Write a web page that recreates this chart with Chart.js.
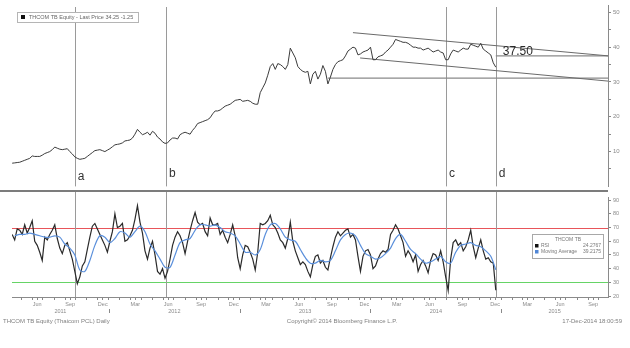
<!DOCTYPE html>
<html>
<head>
<meta charset="utf-8">
<title>THCOM TB Equity</title>
<script src="https://cdn.jsdelivr.net/npm/chart.js@4/dist/chart.umd.min.js"></script>
<style>
  html, body { margin: 0; padding: 0; background: #fff; }
  #wrap { position: relative; width: 630px; height: 348px; overflow: hidden; }
  #priceChart { position: absolute; left: 0; top: 0; }
  #rsiChart { position: absolute; left: 0; top: 192px; }
</style>
</head>
<body>
<div id="wrap">
  <canvas id="priceChart" width="630" height="192"></canvas>
  <canvas id="rsiChart" width="630" height="156"></canvas>
</div>
<script>
// ---------- data ----------
// Day numbers count days since 1 Jan 2011.
const TICKER = 'THCOM TB Equity';
const COMPANY = 'Thaicom PCL';
const SHORT_NAME = 'THCOM TB';
const PRINT_STAMP = '17-Dec-2014 18:00:59';
const COPYRIGHT = 'Copyright\u00a9 2014 Bloomberg Finance L.P.';

// weekly closing prices (THB)
const PRICE_START = 95;
const PRICE_STEP = 7;
const priceValues = [
  6.67, 6.75, 6.86, 6.94, 7.22, 7.50, 7.78, 8.06, 8.75, 8.60,
  8.61, 8.61, 8.97, 9.44, 9.72, 10.00, 10.56, 11.30, 10.97, 10.69,
  10.56, 10.69, 10.83, 10.00, 9.31, 8.47, 8.06, 7.78, 7.92, 8.06,
  8.61, 9.17, 9.72, 10.28, 10.42, 10.56, 10.28, 10.00, 10.42, 10.83,
  11.39, 11.94, 12.08, 12.22, 12.50, 13.06, 13.19, 13.33, 13.89, 15.00,
  16.39, 15.56, 14.86, 15.14, 15.56, 14.72, 15.83, 15.28, 14.17, 13.61,
  12.78, 12.36, 12.50, 13.33, 13.89, 13.89, 13.61, 14.86, 15.28, 15.56,
  15.28, 15.00, 16.11, 16.94, 18.06, 18.33, 18.61, 18.89, 19.17, 19.72,
  20.83, 21.67, 21.67, 21.94, 22.50, 23.06, 23.33, 23.61, 24.17, 24.72,
  24.86, 25.00, 24.44, 24.58, 24.72, 24.44, 23.89, 23.61, 23.61, 26.94,
  28.33, 29.72, 31.94, 34.44, 35.28, 33.61, 35.28, 35.00, 34.44, 33.61,
  35.00, 39.72, 38.33, 36.94, 34.44, 33.61, 33.06, 32.78, 33.06, 29.44,
  32.22, 33.06, 30.83, 32.22, 34.72, 33.06, 29.44, 31.39, 33.61, 35.00,
  35.83, 36.11, 36.39, 37.50, 38.89, 39.44, 40.00, 39.72, 37.78, 38.06,
  38.61, 38.89, 39.17, 40.00, 36.39, 36.39, 37.22, 37.50, 37.78, 38.61,
  39.17, 40.00, 40.83, 42.22, 41.94, 41.67, 41.39, 41.39, 41.11, 40.56,
  40.00, 40.00, 39.72, 39.72, 39.17, 39.44, 39.72, 39.17, 38.61, 38.89,
  39.17, 38.61, 38.33, 36.39, 36.39, 38.06, 39.17, 38.89, 38.61, 39.17,
  39.72, 39.44, 39.44, 40.83, 40.56, 40.28, 40.00, 41.11, 39.44, 38.89,
  38.33, 37.78, 35.50, 34.25
];

// relative strength index, same weekly dates as the prices
const RSI_START = 95;
const RSI_STEP = 7;
const rsiValues = [
  65, 61, 69, 68, 65, 72, 66, 70, 75, 60,
  57, 52, 46, 63, 61, 65, 68, 72, 62, 55,
  51, 57, 59, 53, 47, 38, 29, 34, 42, 45,
  54, 63, 71, 73, 69, 65, 61, 57, 52, 60,
  67, 80, 70, 71, 73, 60, 61, 64, 68, 76,
  86, 74, 66, 53, 47, 55, 60, 50, 38, 36,
  40, 33, 38, 47, 57, 63, 67, 64, 59, 51,
  60, 68, 75, 81, 74, 72, 73, 67, 64, 77,
  72, 72, 73, 65, 68, 63, 59, 65, 72, 64,
  48, 40, 50, 57, 56, 52, 47, 39, 52, 73,
  72, 73, 75, 79, 72, 70, 66, 61, 59, 55,
  62, 74, 60, 53, 48, 43, 45, 43, 38, 34,
  43, 49, 50, 44, 46, 41, 39, 48, 56, 63,
  67, 64, 66, 68, 69, 63, 65, 61, 49, 38,
  49, 53, 54, 50, 40, 42, 47, 51, 53, 52,
  54, 65, 68, 72, 69, 64, 59, 49, 53, 50,
  45, 50, 38, 43, 46, 42, 37, 46, 51, 50,
  46, 53, 45, 34, 24, 47, 59, 61, 57, 59,
  53, 56, 61, 68, 56, 48, 55, 61, 53, 47,
  48, 45, 44, 24.2767
];

// moving average of the RSI, every two weeks
const MA_START = 102;
const MA_STEP = 14;
const rsiMaValues = [
  64, 65, 65, 66, 65, 64, 63, 63, 64, 63,
  58, 55, 50, 39, 38, 46, 57, 64, 63, 59,
  62, 67, 66, 63, 67, 71, 67, 58, 53, 47,
  41, 41, 50, 59, 61, 62, 68, 72, 72, 71,
  72, 70, 67, 66, 64, 58, 52, 52, 50, 54,
  65, 72, 73, 69, 63, 61, 60, 54, 48, 44,
  44, 46, 45, 46, 53, 61, 65, 66, 64, 57,
  51, 49, 47, 48, 51, 55, 62, 65, 60, 54,
  51, 47, 44, 45, 47, 49, 45, 44, 52, 57,
  58, 59, 57, 56, 53, 49, 39.2175
];

// marked dates
const eventDays = [270, 525, 1307, 1446];
const eventLabels = ['a', 'b', 'c', 'd'];

// drawn trend lines: [start day, end day] and [start value, end value]
const channelTopDays = [1047, 1759.5];
const channelTopValues = [44.17, 37.5];
const channelBottomDays = [1067, 1759.5];
const channelBottomValues = [36.9, 30.25];
const supportDays = [977, 1759.5];
const supportValues = [31.1, 31.1];
const TARGET = 37.5;
const targetDays = [1446, 1759.5];

// RSI bands
const RSI_HIGH = 70;
const RSI_LOW = 30;

// axes
const X_MIN = 94.5;
const X_MAX = 1759.5;
const YEARS = [2011, 2012, 2013, 2014, 2015];
const QUARTER_MONTHS = [2, 5, 8, 11];
const MONTH_NAMES = ['Jan','Feb','Mar','Apr','May','Jun','Jul','Aug','Sep','Oct','Nov','Dec'];
const priceTickValues = [5, 10, 15, 20, 25, 30, 35, 40, 45, 50];
const rsiTickValues = [20, 30, 40, 50, 60, 70, 80, 90];

// ---------- helpers ----------
const DAY0 = Date.UTC(2011, 0, 1);
const dayOf = (y, m, d) => (Date.UTC(y, m, d) - DAY0) / 86400000;
const series = (vals, start, step) => vals.map((v, i) => ({ x: start + step * i, y: v }));
const segment = (days, vals) => days.map((d, i) => ({ x: d, y: vals[i] }));
const FONT = '"Liberation Sans", Arial, sans-serif';

const xTicks = [];
for (const y of YEARS) {
  for (let m = 0; m < 12; m++) {
    const start = dayOf(y, m, 1);
    if (start > X_MIN && start < X_MAX) xTicks.push({ value: start, name: '' });
    if (QUARTER_MONTHS.includes(m)) {
      const mid = dayOf(y, m, 15);
      if (mid > X_MIN && mid < X_MAX) xTicks.push({ value: mid, name: MONTH_NAMES[m] });
    }
  }
}
xTicks.sort((a, b) => a.value - b.value);

function drawEventLines(chart, top) {
  const { ctx, chartArea, scales } = chart;
  ctx.save();
  ctx.strokeStyle = '#9a9a9a';
  ctx.lineWidth = 1;
  eventDays.forEach(d => {
    const x = Math.round(scales.x.getPixelForValue(d)) + 0.5;
    ctx.beginPath();
    ctx.moveTo(x, top);
    ctx.lineTo(x, chartArea.bottom);
    ctx.stroke();
  });
  ctx.restore();
}

// ---------- price panel ----------
const pricePlugin = {
  id: 'pricePanel',
  beforeDatasetsDraw(chart) { drawEventLines(chart, 7); },
  afterDraw(chart) {
    const { ctx, chartArea, scales } = chart;
    ctx.save();
    // panel separator
    ctx.fillStyle = '#7c7c7c';
    ctx.fillRect(0, 190, chartArea.right, 2);

    // event letters
    ctx.fillStyle = '#333';
    ctx.font = '12px ' + FONT;
    ctx.textBaseline = 'alphabetic';
    const letterBase = [180, 177, 177, 177];
    eventDays.forEach((d, i) => {
      const x = scales.x.getPixelForValue(d);
      ctx.fillText(eventLabels[i], x + 3, letterBase[i]);
    });

    // target label
    ctx.font = '12px ' + FONT;
    ctx.fillStyle = '#2a2a2a';
    ctx.fillText(TARGET.toFixed(2), scales.x.getPixelForValue(targetDays[0]) + 7,
                 scales.y.getPixelForValue(TARGET) - 1);

    // legend
    const last = priceValues[priceValues.length - 1];
    const chg = last - priceValues[priceValues.length - 2];
    ctx.fillStyle = '#fff';
    ctx.fillRect(17, 12, 121, 10);
    ctx.strokeStyle = '#b5b5b5';
    ctx.lineWidth = 1;
    ctx.strokeRect(17.5, 12.5, 121, 10);
    ctx.fillStyle = '#111';
    ctx.fillRect(21, 15, 4, 4);
    ctx.fillStyle = '#666';
    ctx.font = '5.5px ' + FONT;
    ctx.textBaseline = 'middle';
    ctx.fillText(TICKER + ' - Last Price ' + last.toFixed(2) + ' ' + chg.toFixed(2), 29, 17.5);
    ctx.restore();
  }
};

new Chart(document.getElementById('priceChart'), {
  type: 'line',
  data: {
    datasets: [
      { label: 'Last Price', data: series(priceValues, PRICE_START, PRICE_STEP),
        borderColor: '#3c3c3c', borderWidth: 1, pointRadius: 0, tension: 0 },
      { label: 'Channel top', data: segment(channelTopDays, channelTopValues),
        borderColor: '#6a6a6a', borderWidth: 1, pointRadius: 0 },
      { label: 'Channel bottom', data: segment(channelBottomDays, channelBottomValues),
        borderColor: '#6a6a6a', borderWidth: 1, pointRadius: 0 },
      { label: 'Support', data: segment(supportDays, supportValues),
        borderColor: '#8a8a8a', borderWidth: 1.3, pointRadius: 0 },
      { label: 'Target', data: segment(targetDays, [TARGET, TARGET]),
        borderColor: '#8a8a8a', borderWidth: 1.3, pointRadius: 0 }
    ]
  },
  options: {
    responsive: false,
    animation: false,
    layout: { padding: { left: 12, top: 4, bottom: 1, right: 0 } },
    plugins: { legend: { display: false }, tooltip: { enabled: false } },
    scales: {
      x: { type: 'linear', min: X_MIN, max: X_MAX, display: false },
      y: {
        position: 'right', min: 0, max: 51.94,
        afterFit(s) { s.width = 22; },
        afterBuildTicks(s) { s.ticks = priceTickValues.map(v => ({ value: v })); },
        ticks: { callback: v => (v % 10 === 0 ? String(v) : ''), color: '#8a8a8a',
                 font: { size: 6, family: FONT }, padding: 2 },
        grid: { drawOnChartArea: false, tickLength: 3, color: '#888' },
        border: { color: '#8a8a8a', width: 1 }
      }
    }
  },
  plugins: [pricePlugin]
});

// ---------- RSI panel ----------
const rsiPlugin = {
  id: 'rsiPanel',
  beforeDatasetsDraw(chart) {
    const { ctx, chartArea, scales } = chart;
    // overbought / oversold bands
    ctx.save();
    ctx.lineWidth = 1;
    [[RSI_HIGH, '#e8555a'], [RSI_LOW, '#66d466']].forEach(([v, c]) => {
      const y = Math.round(scales.y.getPixelForValue(v)) + 0.5;
      ctx.strokeStyle = c;
      ctx.beginPath();
      ctx.moveTo(chartArea.left, y);
      ctx.lineTo(chartArea.right, y);
      ctx.stroke();
    });
    ctx.restore();
    drawEventLines(chart, 0);
  },
  afterDraw(chart) {
    const { ctx, scales, chartArea } = chart;
    ctx.save();
    // legend box
    ctx.fillStyle = '#fff';
    ctx.fillRect(532, 42, 71, 24);
    ctx.strokeStyle = '#a8a8a8';
    ctx.lineWidth = 1;
    ctx.strokeRect(532.5, 42.5, 71, 24);
    ctx.font = '5px ' + FONT;
    ctx.textBaseline = 'middle';
    ctx.fillStyle = '#777';
    ctx.textAlign = 'center';
    ctx.fillText(SHORT_NAME, 568, 48);
    ctx.textAlign = 'left';
    ctx.fillStyle = '#111';
    ctx.fillRect(535, 52, 3.5, 3.5);
    ctx.fillStyle = '#4f86d6';
    ctx.fillRect(535, 58, 3.5, 3.5);
    ctx.fillStyle = '#777';
    ctx.fillText('RSI', 541, 54);
    ctx.fillText('Moving Average', 541, 60);
    ctx.textAlign = 'right';
    ctx.fillText(rsiValues[rsiValues.length - 1].toFixed(4), 601, 54);
    ctx.fillText(rsiMaValues[rsiMaValues.length - 1].toFixed(4), 601, 60);

    // year labels centred on each year's visible span, with year-start marks
    ctx.textAlign = 'center';
    ctx.fillStyle = '#8a8a8a';
    ctx.font = '5.5px ' + FONT;
    const yRow = chartArea.bottom + 14;
    YEARS.forEach(y => {
      const a = Math.max(dayOf(y, 0, 1), X_MIN);
      const b = Math.min(dayOf(y + 1, 0, 1), X_MAX);
      if (b <= a) return;
      const xa = scales.x.getPixelForValue(a);
      const xb = scales.x.getPixelForValue(b);
      ctx.fillText(String(y), (xa + xb) / 2, yRow);
      if (dayOf(y, 0, 1) > X_MIN) {
        ctx.fillRect(Math.round(xa), yRow - 2, 1, 4);
      }
    });

    // footer
    ctx.font = '6px ' + FONT;
    ctx.fillStyle = '#808080';
    const yFoot = chartArea.bottom + 24;
    ctx.textAlign = 'left';
    ctx.fillText(TICKER + ' (' + COMPANY + ') Daily', 3, yFoot);
    ctx.textAlign = 'center';
    ctx.fillText(COPYRIGHT, 342, yFoot);
    ctx.textAlign = 'right';
    ctx.fillText(PRINT_STAMP, 622, yFoot);
    ctx.restore();
  }
};

new Chart(document.getElementById('rsiChart'), {
  type: 'line',
  data: {
    datasets: [
      { label: 'Moving Average', data: series(rsiMaValues, MA_START, MA_STEP),
        borderColor: '#5a8fdb', borderWidth: 1.2, pointRadius: 0, tension: 0.3 },
      { label: 'RSI', data: series(rsiValues, RSI_START, RSI_STEP),
        borderColor: '#2a2a2a', borderWidth: 1.2, pointRadius: 0, tension: 0 }
    ]
  },
  options: {
    responsive: false,
    animation: false,
    layout: { padding: { left: 12, top: 1, bottom: 0, right: 0 } },
    plugins: { legend: { display: false }, tooltip: { enabled: false } },
    scales: {
      x: {
        type: 'linear', min: X_MIN, max: X_MAX,
        afterFit(s) { s.height = 51; },
        afterBuildTicks(s) { s.ticks = xTicks.map(t => ({ value: t.value, name: t.name })); },
        ticks: { autoSkip: false, maxRotation: 0, color: '#8a8a8a',
                 font: { size: 5.5, family: FONT }, padding: 1,
                 callback: (v, i, ticks) => ticks[i].name || '' },
        grid: { drawOnChartArea: false, tickLength: 3, color: '#888' },
        border: { color: '#8a8a8a', width: 1 }
      },
      y: {
        position: 'right', min: 19.3, max: 92.1,
        afterFit(s) { s.width = 22; },
        afterBuildTicks(s) { s.ticks = rsiTickValues.map(v => ({ value: v })); },
        ticks: { color: '#8a8a8a', font: { size: 5.5, family: FONT }, padding: 2 },
        grid: { drawOnChartArea: false, tickLength: 3, color: '#888' },
        border: { color: '#8a8a8a', width: 1 }
      }
    }
  },
  plugins: [rsiPlugin]
});
</script>
</body>
</html>
